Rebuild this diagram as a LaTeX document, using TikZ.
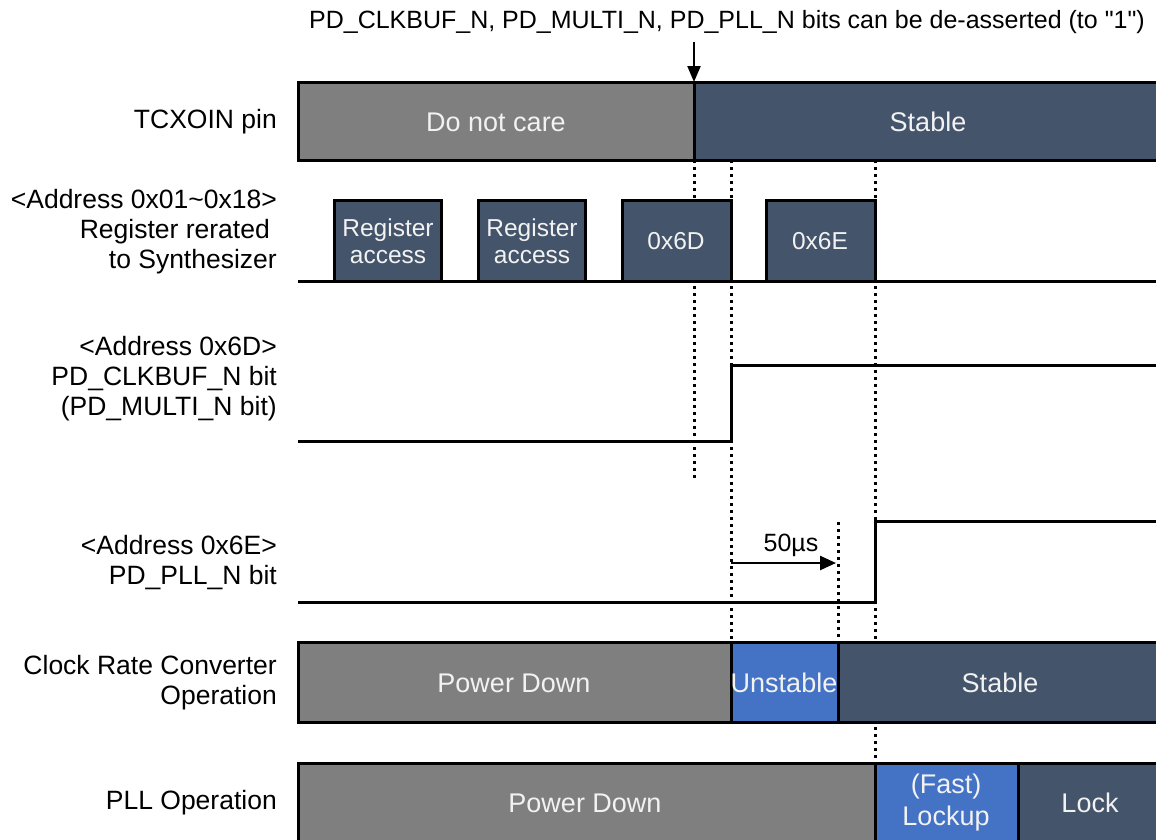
\documentclass[tikz,border=0pt]{standalone}
\usepackage{fontspec}
\setmainfont{Liberation Sans}[Ligatures=TeXOff]
\usetikzlibrary{arrows.meta}
\definecolor{cgray}{HTML}{7F7F7F}
\definecolor{cdark}{HTML}{44546A}
\definecolor{cblue}{HTML}{4472C4}
\definecolor{ctxt}{HTML}{F2F2F2}
\begin{document}
\begin{tikzpicture}[x=1pt,y=-1pt,
  sig/.style={line width=3pt, line join=miter},
  bar/.style={draw=black, line width=3pt},
  dotline/.style={line width=3pt, dash pattern=on 3pt off 4pt},
  lbl/.style={font=\fontsize{26.5}{30}\selectfont, align=right, anchor=east, text=black, inner sep=0pt},
  intxt/.style={font=\fontsize{27}{32}\selectfont, text=ctxt, align=center, inner sep=0pt},
  regtxt/.style={font=\fontsize{24.5}{27}\selectfont, text=ctxt, align=center, inner sep=0pt}]
\useasboundingbox (0,0) rectangle (1156,839);
\clip (0,0) rectangle (1156,839);

% coordinates
\coordinate (arrowstart) at (694,42);
\coordinate (tcxdiv) at (694,82);

% dotted guide lines
\draw[dotline] (694,160) -- (694,480);
\draw[dotline] (731,160) -- (731,642);
\draw[dotline] (875,160) -- (875,763);
\draw[dotline] (838,522) -- (838,642);

% top annotation
\node[font=\fontsize{25}{29}\selectfont, inner sep=0pt] (toptext) at (727,22)
  {PD\_CLKBUF\_N, PD\_MULTI\_N, PD\_PLL\_N bits can be de-asserted (to "1")};
\draw[line width=2.2pt, -{Triangle[length=16pt,width=13pt]}] (arrowstart) -- (tcxdiv);

% TCXOIN row
\node[lbl] (l1) at (277,122) {TCXOIN pin};
\draw[bar, fill=cgray] (298,82) rectangle (694,160);
\draw[bar, fill=cdark] (694,82) rectangle (1170,160);
\node[intxt] (t1a) at (496,122) {Do not care};
\node[intxt] (t1b) at (928,122) {Stable};

% register access row
\node[lbl] (l2) at (277,232) {<Address 0x01\textasciitilde 0x18>\\Register rerated\kern7pt\\to Synthesizer};
\draw[sig] (298,281) -- (1170,281);
\draw[bar, fill=cdark] (334,281) rectangle (441,200);
\draw[bar, fill=cdark] (478,281) rectangle (585,200);
\draw[bar, fill=cdark] (622,281) rectangle (731,200);
\draw[bar, fill=cdark] (766,281) rectangle (875,200);
\node[regtxt] (r1) at (388,241) {Register\\access};
\node[regtxt] (r2) at (532,241) {Register\\access};
\node[regtxt] (r3) at (676,241) {0x6D};
\node[regtxt] (r4) at (820,241) {0x6E};

% 0x6D row
\node[lbl] (l3) at (277,379) {<Address 0x6D>\\PD\_CLKBUF\_N bit\\(PD\_MULTI\_N bit)};
\draw[sig] (298,441) -- (731,441) -- (731,365) -- (1170,365);

% 0x6E row
\node[lbl] (l4) at (277,563) {<Address 0x6E>\\PD\_PLL\_N bit};
\draw[sig] (298,602) -- (875,602) -- (875,521) -- (1170,521);
\coordinate (d50a) at (731,563);
\coordinate (d50b) at (836,563);
\draw[line width=2.5pt, -{Triangle[length=16pt,width=14pt]}] (d50a) -- (d50b);
\node[font=\fontsize{25}{29}\selectfont, inner sep=0pt] (t50) at (791,545) {50µs};

% Clock rate converter row
\node[lbl] (l5) at (277,683) {Clock Rate Converter\\Operation};
\draw[bar, fill=cgray] (298,642) rectangle (731,722);
\draw[bar, fill=cblue] (731,642) rectangle (838,722);
\draw[bar, fill=cdark] (838,642) rectangle (1170,722);
\node[intxt] (c1) at (514,683) {Power Down};
\node[intxt] (c2) at (784,683) {Unstable};
\node[intxt] (c3) at (1000,683) {Stable};

% PLL row
\node[lbl] (l6) at (277,803) {PLL Operation};
\draw[bar, fill=cgray] (298,763) rectangle (875,860);
\draw[bar, fill=cblue] (875,763) rectangle (1018,860);
\draw[bar, fill=cdark] (1018,763) rectangle (1170,860);
\node[intxt] (p1) at (585,803) {Power Down};
\node[intxt] (p2) at (946,803) {(Fast)\\Lockup};
\node[intxt] (p3) at (1090,803) {Lock};
\end{tikzpicture}
\end{document}
